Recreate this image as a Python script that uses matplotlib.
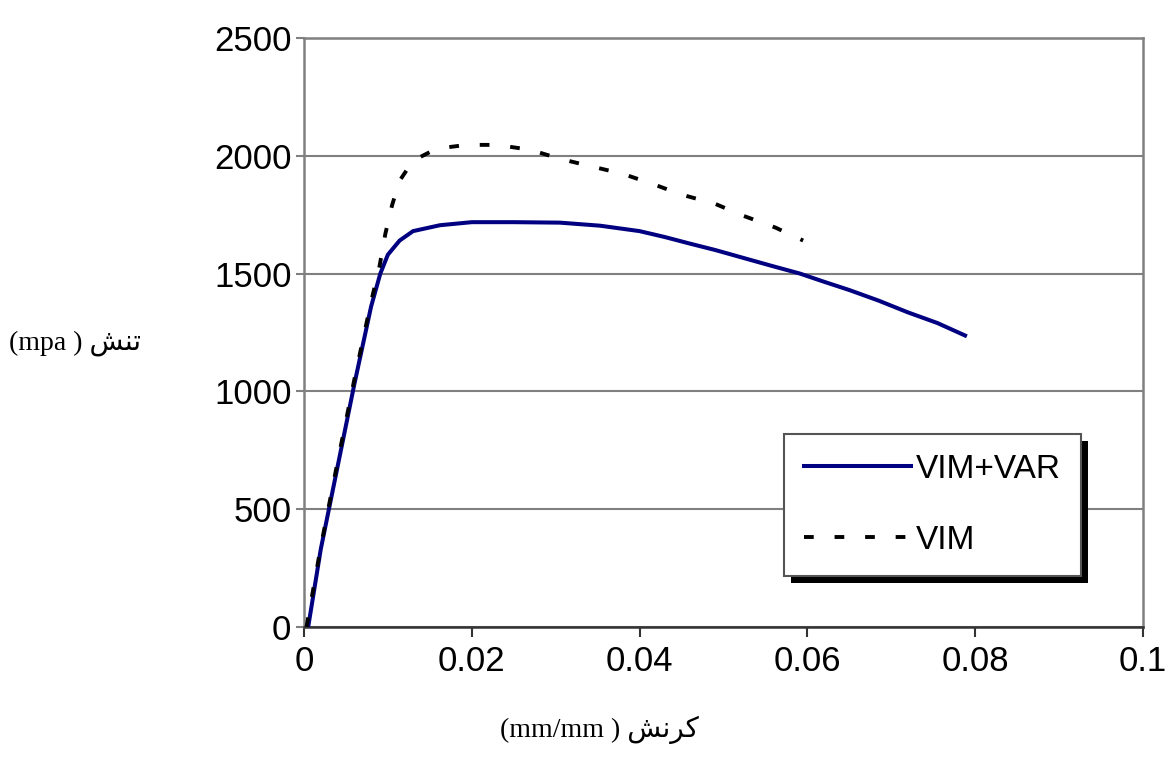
import matplotlib
matplotlib.use("Agg")
import matplotlib.pyplot as plt
from matplotlib.patches import Rectangle

# strain (mm/mm) and stress (MPa)
strain_var = [0.0005, 0.002, 0.004, 0.006, 0.008, 0.0091, 0.0100, 0.0114, 0.0130, 0.0162,
              0.0200, 0.0250, 0.0305, 0.0353, 0.0400, 0.0430, 0.0460, 0.0490, 0.0520,
              0.0555, 0.0591, 0.0620, 0.0650, 0.0685, 0.0720, 0.0755, 0.0788]
stress_var = [0, 330, 680, 1030, 1360, 1500, 1580, 1640, 1680, 1705,
              1718, 1718, 1716, 1703, 1680, 1655, 1627, 1600, 1570,
              1535, 1500, 1465, 1430, 1385, 1335, 1290, 1237]

strain_vim = [0.0003, 0.002, 0.004, 0.006, 0.008, 0.0090, 0.0097, 0.0105, 0.0114, 0.0130,
              0.0158, 0.0194, 0.0230, 0.0270, 0.0305, 0.0340, 0.0380, 0.0415, 0.0450,
              0.0490, 0.0523, 0.0562, 0.0595]
stress_vim = [0, 340, 700, 1050, 1380, 1530, 1669, 1790, 1894, 1979,
              2030, 2046, 2046, 2025, 1987, 1957, 1923, 1881, 1835,
              1796, 1746, 1695, 1640]

x_ticks = [0, 0.02, 0.04, 0.06, 0.08, 0.1]
x_labels = ["0", "0.02", "0.04", "0.06", "0.08", "0.1"]
y_ticks = [0, 500, 1000, 1500, 2000, 2500]

plt.rcParams["lines.scale_dashes"] = False

fig = plt.figure(figsize=(11.71, 7.69), dpi=100)
ax = fig.add_axes([0.2596, 0.1847, 0.7164, 0.766])

ax.plot(strain_var, stress_var, color="#000080", lw=2.9, label="VIM+VAR", zorder=3)
ax.plot(strain_vim, stress_vim, color="black", lw=2.8, dashes=(7, 15), label="VIM", zorder=4)

ax.set_xlim(0, 0.1)
ax.set_ylim(0, 2500)
ax.set_xticks(x_ticks)
ax.set_xticklabels(x_labels)
ax.set_yticks(y_ticks)
ax.yaxis.grid(True, color="#808080", lw=1.5)
ax.set_axisbelow(True)

for lab in ax.get_xticklabels() + ax.get_yticklabels():
    lab.set_fontfamily("Liberation Sans")
    lab.set_fontsize(25)
ax.tick_params(axis="x", length=7, width=1.5, color="#333333", pad=6)
ax.tick_params(axis="y", length=6, width=1.5, color="#808080", pad=3)
for side in ["left", "top", "right"]:
    ax.spines[side].set_color("#808080")
    ax.spines[side].set_linewidth(1.8)
ax.spines["bottom"].set_color("#333333")
ax.spines["bottom"].set_linewidth(1.8)

# axis labels (Persian) with presentation forms in visual order
serif = ["Liberation Serif", "DejaVu Sans"]
fig.text(0.064, 0.554, "(mpa ) \uFEB6\uFEE8\uFE97", fontsize=20, family=serif,
         ha="center", va="center")
fig.text(0.512, 0.051, "(mm/mm ) \uFEB6\uFEE7\uFEAE\uFEDB", fontsize=20, family=serif,
         ha="center", va="center")

leg = ax.legend(loc="upper left", bbox_to_anchor=(0.572, 0.328), frameon=True,
                fancybox=False, framealpha=1, edgecolor="#555555",
                prop=dict(family="Liberation Sans", size=24),
                handlelength=3.2, handletextpad=0.15, labelspacing=1.2,
                borderpad=0.6, borderaxespad=0)
leg.get_frame().set_linewidth(1.5)
leg.set_zorder(10)

# black drop shadow behind legend
fig.canvas.draw()
bb = leg.get_window_extent()
shadow = Rectangle((bb.x0 + 7, bb.y0 - 7), bb.width, bb.height,
                   transform=None, facecolor="black", edgecolor="none", zorder=9)
ax.add_artist(shadow)

fig.savefig("out.png", dpi=100)
